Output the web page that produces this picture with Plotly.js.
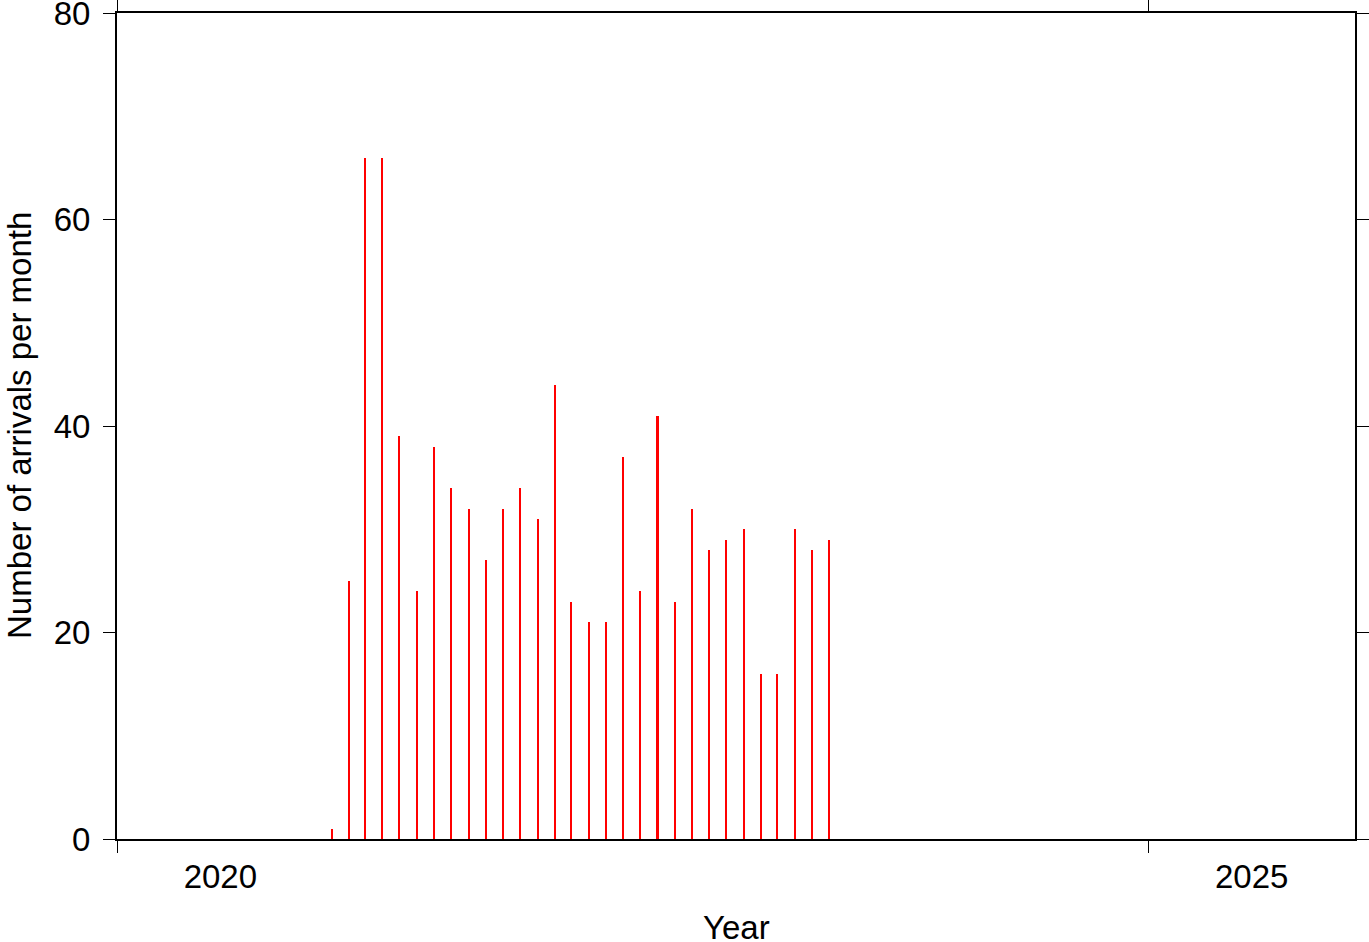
<!DOCTYPE html>
<html>
<head>
<meta charset="utf-8">
<script src="https://cdn.plot.ly/plotly-3.0.1.min.js"></script>
<style>html,body{margin:0;padding:0;background:#fff;}#chart{width:1369px;height:942px;}</style>
</head>
<body>
<div id="chart"></div>
<script>
// Monthly arrivals (mid-month dates)
var months = [
  "2021-01-15","2021-02-15","2021-03-15","2021-04-15","2021-05-15","2021-06-15",
  "2021-07-15","2021-08-15","2021-09-15","2021-10-15","2021-11-15","2021-12-15",
  "2022-01-15","2022-02-15","2022-03-15","2022-04-15","2022-05-15","2022-06-15",
  "2022-07-15","2022-08-15","2022-09-15","2022-10-15","2022-11-15","2022-12-15",
  "2023-01-15","2023-02-15","2023-03-15","2023-04-15","2023-05-15","2023-06-15"
];
var arrivals = [1,25,66,66,39,24,38,34,32,27,32,34,31,44,23,21,21,37,24,41,23,32,28,29,30,16,16,30,28,29];
var yearTickDates = ["2020-01-01","2025-01-01"];
var yearLabelDates = ["2020-07-02","2025-07-02"];
var yearLabels = ["2020","2025"];
var yTicks = [0, 20, 40, 60, 80];
var xTitle = "Year";
var yTitle = "Number of arrivals per month";

var font = {family: "Liberation Sans, Arial, Helvetica, sans-serif", size: 33, color: "#000"};

var traces = [
  {
    type: "bar",
    x: months,
    y: arrivals,
    width: 3.6 * 86400000,
    marker: {color: "#ff0000", line: {width: 0}},
    hoverinfo: "x+y"
  },
  {
    type: "scatter",
    mode: "markers",
    x: [],
    y: [],
    xaxis: "x2",
    showlegend: false
  }
];

var layout = {
  width: 1369,
  height: 942,
  margin: {l: 117, r: 14, t: 13, b: 103},
  paper_bgcolor: "#fff",
  plot_bgcolor: "#fff",
  showlegend: false,
  font: font,
  bargap: 0,
  xaxis: {
    type: "date",
    range: ["2020-01-01", "2026-01-01"],
    tickvals: yearTickDates,
    showticklabels: false,
    ticks: "outside",
    ticklen: 12,
    tickwidth: 1,
    tickcolor: "#000",
    showline: true,
    linewidth: 2,
    linecolor: "#000",
    mirror: "ticks",
    showgrid: false,
    zeroline: false,
    title: {text: ""}
  },
  xaxis2: {
    type: "date",
    overlaying: "x",
    matches: "x",
    side: "bottom",
    range: ["2020-01-01", "2026-01-01"],
    tickvals: yearLabelDates,
    ticktext: yearLabels,
    ticks: "outside",
    ticklen: 8,
    tickcolor: "rgba(0,0,0,0)",
    ticklabelstandoff: 0,
    ticklabeloverflow: "allow",
    showline: false,
    showgrid: false,
    zeroline: false,
    tickfont: font,
    title: {text: ""}
  },
  yaxis: {
    range: [0, 80],
    tickvals: yTicks,
    ticks: "outside",
    ticklen: 12,
    tickwidth: 1,
    tickcolor: "#000",
    ticklabelstandoff: 6,
    ticklabeloverflow: "allow",
    showline: true,
    linewidth: 2,
    linecolor: "#000",
    mirror: "ticks",
    showgrid: false,
    zeroline: false,
    tickfont: font,
    title: {text: ""}
  },
  annotations: [
    {
      text: xTitle, xref: "paper", yref: "paper", x: 0.5, y: 0,
      xanchor: "center", yanchor: "middle", yshift: -88,
      showarrow: false, font: font
    },
    {
      text: yTitle, xref: "paper", yref: "paper", x: 0, y: 0.5,
      xanchor: "center", yanchor: "middle", xshift: -98, textangle: -90,
      showarrow: false, font: font
    }
  ]
};

Plotly.newPlot("chart", traces, layout, {displayModeBar: false, staticPlot: true});
</script>
</body>
</html>
